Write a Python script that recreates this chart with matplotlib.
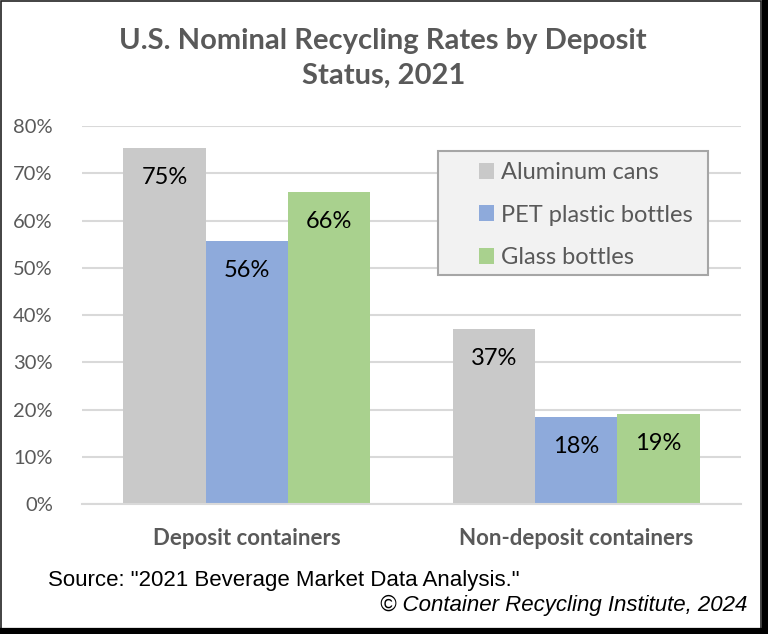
import numpy as np
import matplotlib.pyplot as plt
from matplotlib.patches import Rectangle
from matplotlib.lines import Line2D

# Data
categories = ['Deposit containers', 'Non-deposit containers']
series = ['Aluminum cans', 'PET plastic bottles', 'Glass bottles']
aluminum = [75.3, 37.0]
pet = [55.7, 18.4]
glass = [66.0, 19.0]
labels = [['75%', '37%'], ['56%', '18%'], ['66%', '19%']]
colors = ['#c9c9c9', '#8eaadb', '#a9d18e']

plt.rcParams['font.family'] = ['Lato', 'DejaVu Sans']
grey = '#595959'

fig = plt.figure(figsize=(7.68, 6.34), dpi=100)
ax = fig.add_axes([0.1068, 0.205, 0.858, 0.596])

x = np.arange(len(categories))
w = 0.25
for i, (vals, col) in enumerate(zip([aluminum, pet, glass], colors)):
    bars = ax.bar(x + (i - 1) * w, vals, w, color=col, label=series[i], zorder=2)
    for b, lab in zip(bars, labels[i]):
        ax.annotate(lab, (b.get_x() + b.get_width() / 2, b.get_height()),
                    xytext=(0, -21), textcoords='offset points',
                    ha='center', va='center', fontsize=17, color='black')

ax.set_xlim(-0.5, 1.5)
ax.set_ylim(0, 80)
ax.set_yticks(np.arange(0, 81, 10))
ax.set_yticklabels([f'{v}%' for v in range(0, 81, 10)])
ax.yaxis.grid(True, color='#d9d9d9', linewidth=1.5, zorder=0)
ax.set_axisbelow(True)
for s in ['top', 'right', 'left']:
    ax.spines[s].set_visible(False)
ax.spines['bottom'].set_color('#d9d9d9')
ax.spines['bottom'].set_linewidth(1.5)
ax.tick_params(axis='y', length=0, pad=21, labelsize=14.5, labelcolor=grey)
ax.tick_params(axis='x', length=0, pad=17)
ax.set_xticks(x)
ax.set_xticklabels(categories, fontsize=16, fontweight='bold', color=grey)

# legend box drawn by hand, entries placed inside
ax.add_patch(Rectangle((0.540, 0.606), 0.410, 0.328, transform=ax.transAxes,
                       facecolor='#f2f2f2', edgecolor='#a6a6a6', linewidth=1.5,
                       zorder=3))
leg = ax.legend(loc='upper left', bbox_to_anchor=(0.593, 0.921), fontsize=17,
                frameon=False, handlelength=0.65, handleheight=0.65,
                handletextpad=0.3, labelspacing=0.92, borderpad=0.25,
                borderaxespad=0)
leg.set_zorder(4)
for t in leg.get_texts():
    t.set_color(grey)

fig.text(0.499, 0.935, 'U.S. Nominal Recycling Rates by Deposit', ha='center',
         va='center', fontsize=21, fontweight='bold', color=grey)
fig.text(0.499, 0.880, 'Status, 2021', ha='center', va='center',
         fontsize=21, fontweight='bold', color=grey)

fig.text(0.063, 0.085, 'Source: "2021 Beverage Market Data Analysis."',
         fontsize=16, family='Liberation Sans', color='black', va='center')
fig.text(0.973, 0.045, '\u00a9 Container Recycling Institute, 2024', ha='right',
         fontsize=16, family='Liberation Sans', style='italic', color='black',
         va='center')

# frame around the picture: thin top/left, heavy right/bottom
fig.patches.append(Rectangle((0.001, 0.004), 0.99, 0.994, transform=fig.transFigure,
                             fill=False, edgecolor='#222222', linewidth=1.2))
fig.lines.append(Line2D([0.9955, 0.9955], [0.0, 1.0], transform=fig.transFigure,
                        color='black', linewidth=4.5))
fig.lines.append(Line2D([0.0, 1.0], [0.0045, 0.0045], transform=fig.transFigure,
                        color='black', linewidth=4.5))

fig.savefig('out.png', dpi=100)
